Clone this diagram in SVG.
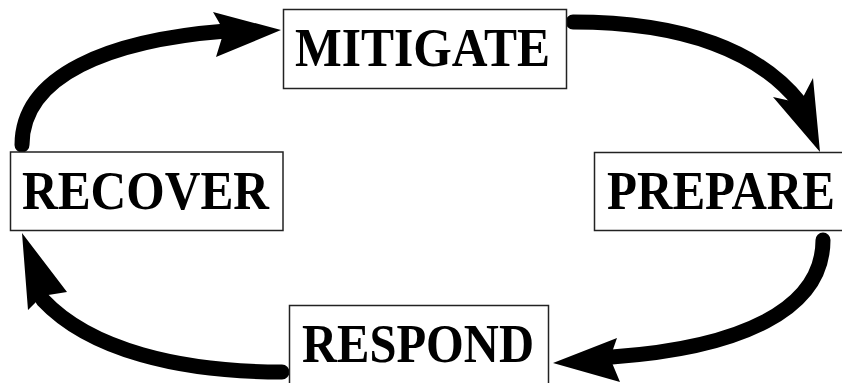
<svg xmlns="http://www.w3.org/2000/svg" width="842" height="383" viewBox="0 0 842 383">
<style>
.box{fill:#fff;stroke:#222;stroke-width:1.5}
.lbl{font-family:"Liberation Serif","Times New Roman",serif;font-weight:bold;font-size:54px;fill:#000}
.shaft{fill:none;stroke:#000;stroke-width:15;stroke-linecap:round}
.head{fill:#000;stroke:none}
</style>
<rect width="842" height="383" fill="#fff"/>
<g id="connectors">
<path class="shaft" d="M22,145 C22,75 110,40 226,31"/>
<polygon class="head" points="281,30 213,12 224,31 216,57"/>
<path class="shaft" d="M573,22 C685,22 760,52 800,103"/>
<polygon class="head" points="820,152 773,97 800,103 813,78"/>
<path class="shaft" d="M823,240 C823,310 740,348 612,357"/>
<polygon class="head" points="553,363 617,338 610,358 620,382"/>
<path class="shaft" d="M282,372 C180,372 90,350 43,300"/>
<polygon class="head" points="22,233 28,310 42,296 67,292"/>
</g>
<g id="mitigate">
<rect class="box" x="283.5" y="9.5" width="283" height="79"/>
<text class="lbl" x="295" y="65.5" textLength="255" lengthAdjust="spacingAndGlyphs">MITIGATE</text>
</g>
<g id="prepare">
<rect class="box" x="594.5" y="152.5" width="252" height="78"/>
<text class="lbl" x="607" y="208.5" textLength="228" lengthAdjust="spacingAndGlyphs">PREPARE</text>
</g>
<g id="respond">
<rect class="box" x="289.5" y="305.5" width="259" height="90"/>
<text class="lbl" x="302" y="361.5" textLength="232" lengthAdjust="spacingAndGlyphs">RESPOND</text>
</g>
<g id="recover">
<rect class="box" x="10.5" y="152" width="272.5" height="78.5"/>
<text class="lbl" x="22" y="208.5" textLength="247" lengthAdjust="spacingAndGlyphs">RECOVER</text>
</g>
</svg>
